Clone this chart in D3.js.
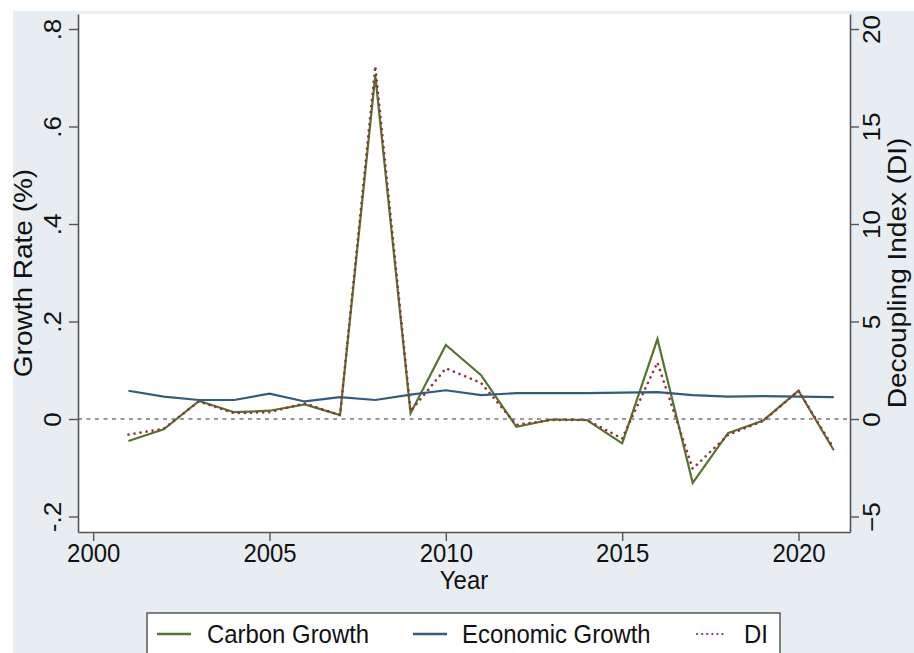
<!DOCTYPE html>
<html>
<head>
<meta charset="utf-8">
<script src="https://cdn.jsdelivr.net/npm/d3@7"></script>
<style>
  html, body { margin: 0; padding: 0; background: #ffffff; }
  svg text { font-family: "Liberation Sans", Arial, Helvetica, sans-serif; fill: #111; }
</style>
</head>
<body>
<svg id="chart" width="914" height="653"></svg>
<script>
// Annual series, 2001-2021
const years = [2001, 2002, 2003, 2004, 2005, 2006, 2007, 2008, 2009, 2010, 2011,
               2012, 2013, 2014, 2015, 2016, 2017, 2018, 2019, 2020, 2021];
const carbonGrowth = [-0.045, -0.021, 0.037, 0.014, 0.017, 0.030, 0.008, 0.705, 0.012, 0.152, 0.090,
                      -0.016, -0.001, -0.002, -0.050, 0.164, -0.131, -0.029, -0.003, 0.058, -0.064];
const economicGrowth = [0.058, 0.046, 0.039, 0.039, 0.052, 0.036, 0.045, 0.039, 0.050, 0.059, 0.049,
                        0.053, 0.053, 0.053, 0.054, 0.055, 0.049, 0.046, 0.047, 0.046, 0.045];
const decouplingIndex = [-0.8, -0.5, 0.9, 0.3, 0.35, 0.8, 0.2, 18.1, 0.4, 2.6, 1.85,
                         -0.3, -0.05, -0.05, -1.0, 2.9, -2.55, -0.82, -0.1, 1.45, -1.5];

const xTicks = [2000, 2005, 2010, 2015, 2020];
const leftTicks = [-0.2, 0, 0.2, 0.4, 0.6, 0.8];
const leftTickLabels = ["-.2", "0", ".2", ".4", ".6", ".8"];
const rightTicks = [-5, 0, 5, 10, 15, 20];

const seriesNames = ["Carbon Growth", "Economic Growth", "DI"];
const colors = { carbon: "#55752f", economic: "#325b83", di: "#90353b" };

const svg = d3.select("#chart");
const W = 914, H = 653;
const plot = { left: 78, right: 850, top: 14, bottom: 532 };

// graph background
svg.append("rect").attr("x", 0).attr("y", 0).attr("width", W).attr("height", H).attr("fill", "#ffffff");
svg.append("rect").attr("x", 13).attr("y", 11).attr("width", W - 13).attr("height", H - 11).attr("fill", "#e7edf1");
svg.append("rect").attr("x", plot.left).attr("y", plot.top)
  .attr("width", plot.right - plot.left).attr("height", plot.bottom - plot.top).attr("fill", "#ffffff");

const x = d3.scaleLinear().domain([1999.57, 2021.46]).range([plot.left, plot.right]);
const y = d3.scaleLinear().domain([-0.2318, 0.8308]).range([plot.bottom, plot.top]);
const yR = d3.scaleLinear().domain([-0.2318 * 25, 0.8308 * 25]).range([plot.bottom, plot.top]);

const fs = "26px";
const titleFs = "28px";
const squeeze = 0.92;

// zero reference line
svg.append("line")
  .attr("x1", plot.left).attr("x2", plot.right)
  .attr("y1", y(0)).attr("y2", y(0))
  .attr("stroke", "#9a9a9a").attr("stroke-width", 2).attr("stroke-dasharray", "4,4.5");

// left axis
const gL = svg.append("g").attr("transform", `translate(${plot.left},0)`)
  .call(d3.axisLeft(y).tickValues(leftTicks).tickSize(9).tickSizeOuter(0)
    .tickFormat((d, i) => leftTickLabels[i]));
gL.selectAll("text")
  .attr("x", null).attr("dy", "0.35em").attr("text-anchor", "middle")
  .attr("transform", `translate(-25,0) rotate(-90) scale(1,${squeeze})`)
  .style("font-size", fs);

// right axis
const gR = svg.append("g").attr("transform", `translate(${plot.right},0)`)
  .call(d3.axisRight(yR).tickValues(rightTicks).tickSize(9).tickSizeOuter(0).tickFormat(d3.format("d")));
gR.selectAll("text")
  .attr("x", null).attr("dy", "0.35em").attr("text-anchor", "middle")
  .attr("transform", `translate(22,0) rotate(-90) scale(1,${squeeze})`)
  .style("font-size", fs);

// bottom axis
const gB = svg.append("g").attr("transform", `translate(0,${plot.bottom})`)
  .call(d3.axisBottom(x).tickValues(xTicks).tickSize(9).tickSizeOuter(0).tickFormat(d3.format("d")));
gB.selectAll("text")
  .attr("y", 12).attr("dy", "0.71em")
  .attr("transform", `scale(${squeeze},1)`)
  .style("font-size", fs);

[gL, gR, gB].forEach(g => {
  g.select(".domain").attr("stroke", "#555").attr("stroke-width", 1.6);
  g.selectAll(".tick line").attr("stroke", "#555").attr("stroke-width", 1.4);
  g.selectAll("text").attr("fill", "#111");
});

// axis titles
svg.append("text").attr("text-anchor", "middle").style("font-size", fs)
  .attr("transform", `translate(464,580) scale(${squeeze},1)`).attr("dy", "0.35em").text("Year");
svg.append("text").attr("text-anchor", "middle").style("font-size", titleFs)
  .attr("transform", `translate(23,${(plot.top + plot.bottom) / 2}) rotate(-90) scale(1,${squeeze})`)
  .attr("dy", "0.35em").text("Growth Rate (%)");
svg.append("text").attr("text-anchor", "middle").style("font-size", titleFs)
  .attr("transform", `translate(897,${(plot.top + plot.bottom) / 2}) rotate(-90) scale(1,${squeeze})`)
  .attr("dy", "0.35em").text("Decoupling Index (DI)");

// series
const lineL = d3.line().x((d, i) => x(years[i])).y(d => y(d));
const lineR = d3.line().x((d, i) => x(years[i])).y(d => yR(d));

svg.append("path").datum(carbonGrowth).attr("d", lineL)
  .attr("fill", "none").attr("stroke", colors.carbon).attr("stroke-width", 2.2);
svg.append("path").datum(economicGrowth).attr("d", lineL)
  .attr("fill", "none").attr("stroke", colors.economic).attr("stroke-width", 2.2);
svg.append("path").datum(decouplingIndex).attr("d", lineR)
  .attr("fill", "none").attr("stroke", colors.di).attr("stroke-width", 2.6)
  .attr("stroke-linecap", "round").attr("stroke-dasharray", "0.1,6");

// legend
const lg = svg.append("g");
lg.append("rect").attr("x", 147).attr("y", 613).attr("width", 633).attr("height", 60)
  .attr("fill", "#ffffff").attr("stroke", "#333").attr("stroke-width", 1.2);
const legendItems = [
  { name: seriesNames[0], color: colors.carbon, x1: 157, x2: 191, tx: 207, dash: null },
  { name: seriesNames[1], color: colors.economic, x1: 413, x2: 447, tx: 462, dash: null },
  { name: seriesNames[2], color: colors.di, x1: 697, x2: 725, tx: 744, dash: "0.1,5" }
];
legendItems.forEach(it => {
  lg.append("line").attr("x1", it.x1).attr("x2", it.x2).attr("y1", 634).attr("y2", 634)
    .attr("stroke", it.color).attr("stroke-width", it.dash ? 2.2 : 2.4)
    .attr("stroke-linecap", it.dash ? "round" : "butt")
    .attr("stroke-dasharray", it.dash);
  lg.append("text").attr("transform", `translate(${it.tx},634) scale(${squeeze},1)`)
    .attr("dy", "0.35em").style("font-size", fs).text(it.name);
});
</script>
</body>
</html>
